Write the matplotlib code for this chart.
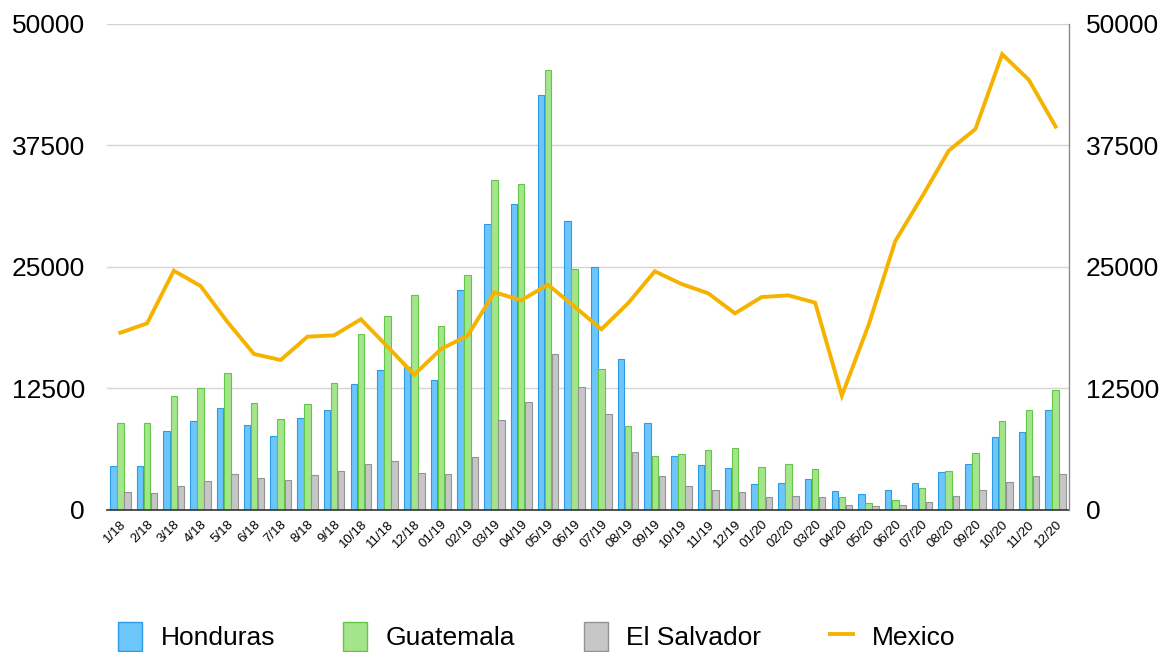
import numpy as np
from matplotlib import pyplot as plt
from matplotlib.patches import Patch
from matplotlib.lines import Line2D

plt.rcParams['font.family'] = ['Liberation Sans', 'DejaVu Sans']

months = ['1/18', '2/18', '3/18', '4/18', '5/18', '6/18', '7/18', '8/18', '9/18', '10/18', '11/18', '12/18',
          '01/19', '02/19', '03/19', '04/19', '05/19', '06/19', '07/19', '08/19', '09/19', '10/19', '11/19', '12/19',
          '01/20', '02/20', '03/20', '04/20', '05/20', '06/20', '07/20', '08/20', '09/20', '10/20', '11/20', '12/20']

honduras = [4560, 4560, 8130, 9190, 10490, 8780, 7650, 9470, 10250, 12990, 14370, 14710,
            13370, 22620, 29420, 31450, 42700, 29730, 24970, 15530, 8980, 5580, 4630, 4290,
            2640, 2810, 3190, 1920, 1680, 2020, 2740, 3910, 4700, 7510, 8060, 10250]

guatemala = [8920, 8980, 11760, 12550, 14130, 11040, 9360, 10940, 13070, 18140, 19930, 22120,
             18930, 24220, 33980, 33500, 45300, 24830, 14500, 8610, 5580, 5760, 6140, 6380,
             4420, 4760, 4180, 1300, 690, 1000, 2260, 4010, 5830, 9190, 10250, 12380]

el_salvador = [1850, 1710, 2500, 3020, 3700, 3330, 3090, 3630, 4040, 4700, 5070, 3840,
               3700, 5420, 9220, 11140, 16080, 12620, 9880, 5970, 3520, 2470, 2020, 1850,
               1300, 1440, 1370, 480, 410, 480, 860, 1440, 2090, 2880, 3500, 3730]

mexico = [18240, 19200, 24620, 23050, 19370, 16050, 15430, 17830, 17970, 19620, 16800, 13920,
          16560, 17950, 22400, 21570, 23180, 20920, 18590, 21270, 24560, 23250, 22290, 20230,
          21910, 22080, 21330, 11760, 19030, 27670, 32230, 36970, 39200, 46890, 44240, 39440]

yticks = [0, 12500, 25000, 37500, 50000]

fig = plt.figure(figsize=(11.72, 6.52), dpi=100)
ax = fig.add_axes([0.0913, 0.2178, 0.8208, 0.7454])

x = np.arange(len(months))
w = 0.265
ax.bar(x - w, honduras, w * 0.92, color='#6CC6FA', edgecolor='#2E9BE6', linewidth=0.8, zorder=2)
ax.bar(x, guatemala, w * 0.92, color='#A4E58C', edgecolor='#62C646', linewidth=0.8, zorder=2)
ax.bar(x + w, el_salvador, w * 0.92, color='#C6C6C6', edgecolor='#939393', linewidth=0.8, zorder=2)

ax.set_xlim(-0.5, len(months) - 0.5)
ax.set_ylim(0, 50000)
ax.set_yticks(yticks)
ax.set_yticklabels([str(t) for t in yticks], fontsize=19)
ax.yaxis.grid(True, color='#D4D4D4', linewidth=1.0, zorder=0)
ax.set_axisbelow(True)
ax.tick_params(axis='y', length=0, pad=16)
ax.set_xticks(x)
ax.set_xticklabels(months, rotation=45, ha='right', rotation_mode='anchor', fontsize=9.5)
ax.tick_params(axis='x', length=0, pad=6)
ax.spines['top'].set_visible(False)
ax.spines['left'].set_visible(False)
ax.spines['right'].set_visible(False)
ax.spines['bottom'].set_color('#333333')
ax.spines['bottom'].set_linewidth(1.2)

ax2 = ax.twinx()
ax2.plot(x, mexico, color='#F5B300', linewidth=2.8, solid_joinstyle='miter', zorder=3)
ax2.set_ylim(0, 50000)
ax2.set_yticks(yticks)
ax2.set_yticklabels([str(t) for t in yticks], fontsize=19)
ax2.tick_params(axis='y', length=0, pad=12)
ax2.spines['top'].set_visible(False)
ax2.spines['left'].set_visible(False)
ax2.spines['bottom'].set_visible(False)
ax2.spines['right'].set_color('#8A8A8A')
ax2.spines['right'].set_linewidth(1.0)

handles = [Patch(facecolor='#6CC6FA', edgecolor='#2E9BE6', label='Honduras'),
           Patch(facecolor='#A4E58C', edgecolor='#62C646', label='Guatemala'),
           Patch(facecolor='#C6C6C6', edgecolor='#939393', label='El Salvador'),
           Line2D([0], [0], color='#F5B300', linewidth=2.8, label='Mexico')]
fig.legend(handles=handles, loc='center', bbox_to_anchor=(0.458, 0.024), ncol=4, frameon=False,
           fontsize=19, handlelength=0.9, handleheight=1.3, handletextpad=0.7, columnspacing=2.6)

fig.savefig('out.png', dpi=100)
